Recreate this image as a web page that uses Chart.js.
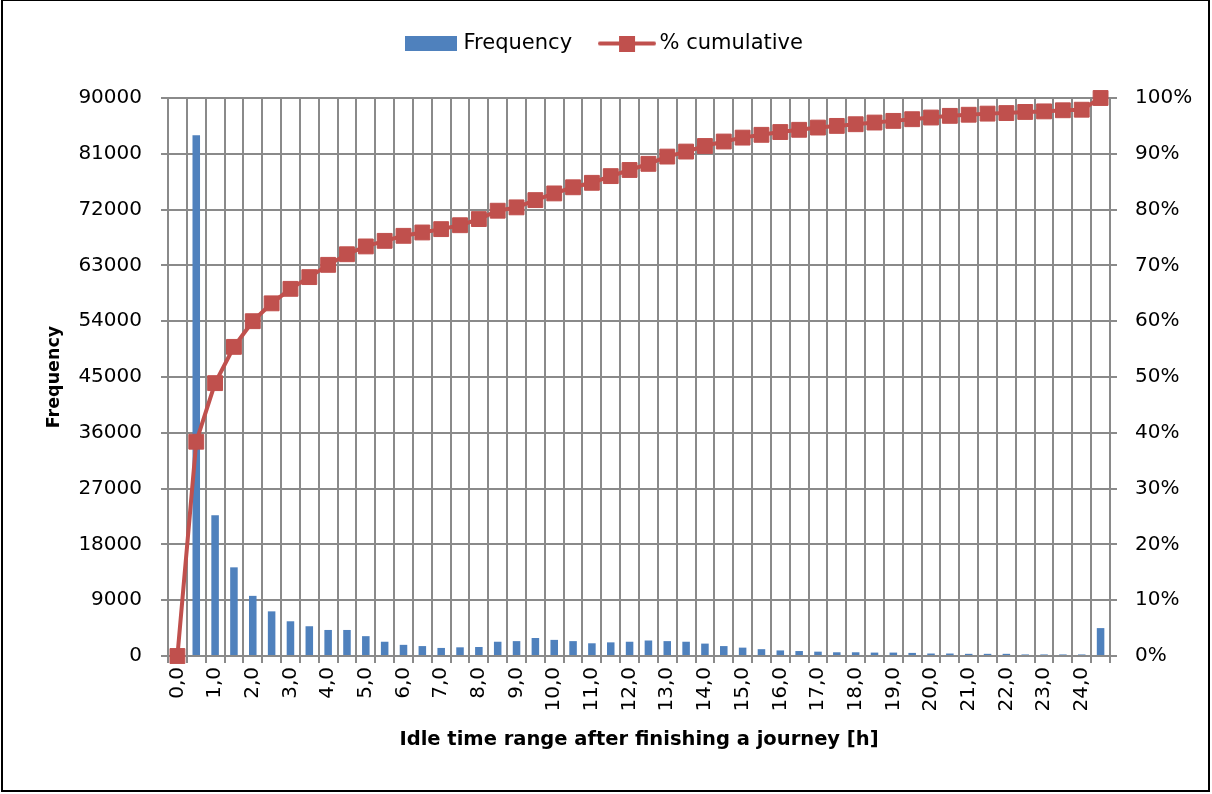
<!DOCTYPE html>
<html>
<head>
<meta charset="utf-8">
<script src="https://cdn.jsdelivr.net/npm/chart.js@4.4.1/dist/chart.umd.min.js"></script>
<style>
    html, body { margin: 0; padding: 0; background: #fff; }
    #wrap { position: relative; width: 1212px; height: 794px; }
</style>
</head>
<body>
<div id="wrap"><canvas id="chart" width="1212" height="794"></canvas></div>
<script>
const categories = [
    '0,0', '0,5', '1,0', '1,5', '2,0', '2,5', '3,0', '3,5', '4,0', '4,5',
    '5,0', '5,5', '6,0', '6,5', '7,0', '7,5', '8,0', '8,5', '9,0', '9,5',
    '10,0', '10,5', '11,0', '11,5', '12,0', '12,5', '13,0', '13,5', '14,0', '14,5',
    '15,0', '15,5', '16,0', '16,5', '17,0', '17,5', '18,0', '18,5', '19,0', '19,5',
    '20,0', '20,5', '21,0', '21,5', '22,0', '22,5', '23,0', '23,5', '24,0', '24,5'
];

const frequency = [
    0, 84000, 22700, 14300, 9700, 7200, 5600, 4800, 4200, 4200,
    3200, 2300, 1800, 1600, 1300, 1400, 1450, 2300, 2400, 2900,
    2600, 2400, 2050, 2200, 2300, 2500, 2400, 2300, 2000, 1600,
    1350, 1100, 900, 800, 700, 600, 600, 550, 550, 500,
    400, 400, 350, 350, 350, 250, 250, 250, 250, 4500
];

const cumulative = [
    0, 38.4, 48.9, 55.4, 60.0, 63.2, 65.8, 67.9, 70.1, 72.0,
    73.4, 74.4, 75.3, 75.9, 76.5, 77.2, 78.3, 79.8, 80.4, 81.7,
    82.9, 84.0, 84.8, 86.0, 87.1, 88.2, 89.5, 90.4, 91.4, 92.2,
    92.9, 93.4, 93.9, 94.3, 94.7, 95.0, 95.3, 95.6, 95.9, 96.2,
    96.5, 96.8, 97.0, 97.2, 97.3, 97.5, 97.6, 97.8, 97.9, 100
];

const freqTicks = [0, 9000, 18000, 27000, 36000, 45000, 54000, 63000, 72000, 81000, 90000];
const pctTicks = [0, 10, 20, 30, 40, 50, 60, 70, 80, 90, 100];

const BAR_COLOR = '#4F81BD';
const LINE_COLOR = '#C0504D';
const GRID_COLOR = '#8a8a8a';
const FONT = 'DejaVu Sans';

Chart.defaults.font.family = FONT;
Chart.defaults.color = '#000';

// legend swatches drawn as small canvases so the line entry shows line + marker
function makeSwatch(w, h, draw) {
    const c = document.createElement('canvas');
    c.width = w;
    c.height = h;
    draw(c.getContext('2d'), w, h);
    return c;
}

const barSwatch = makeSwatch(52, 15, (ctx, w, h) => {
    ctx.fillStyle = BAR_COLOR;
    ctx.fillRect(0, 0, w, h);
});

const lineSwatch = makeSwatch(58, 16, (ctx, w, h) => {
    ctx.strokeStyle = LINE_COLOR;
    ctx.lineWidth = 4;
    ctx.lineCap = 'round';
    ctx.beginPath();
    ctx.moveTo(2, h / 2);
    ctx.lineTo(w - 2, h / 2);
    ctx.stroke();
    ctx.fillStyle = LINE_COLOR;
    ctx.fillRect(w / 2 - 8, 0, 16, 16);
});

const framePlugin = {
    id: 'frame',
    beforeLayout(chart) {
        // push the plot area down below the legend like the original
        const legend = chart.legend;
        if (legend && !legend._patched) {
            const fit = legend.fit;
            legend.fit = function () {
                fit.call(this);
                this.height += 34;
            };
            legend._patched = true;
        }
    },
    afterDraw(chart) {
        const ctx = chart.ctx;
        ctx.save();
        ctx.strokeStyle = '#000';
        ctx.lineWidth = 2;
        ctx.strokeRect(2, 0, 1207, 791);
        ctx.restore();
    }
};

new Chart(document.getElementById('chart'), {
    type: 'bar',
    data: {
        labels: categories,
        datasets: [
            {
                type: 'bar',
                label: 'Frequency',
                data: frequency,
                yAxisID: 'y',
                backgroundColor: BAR_COLOR,
                barPercentage: 0.4,
                categoryPercentage: 1,
                order: 1
            },
            {
                type: 'line',
                label: '% cumulative',
                data: cumulative,
                yAxisID: 'y1',
                borderColor: LINE_COLOR,
                borderWidth: 4,
                tension: 0,
                pointStyle: 'rect',
                pointRadius: 10.5,
                pointBackgroundColor: LINE_COLOR,
                pointBorderColor: LINE_COLOR,
                pointBorderWidth: 1,
                clip: false,
                order: 0
            }
        ]
    },
    options: {
        responsive: false,
        animation: false,
        layout: { padding: { top: 0, left: 0, right: 0, bottom: 0 } },
        plugins: {
            tooltip: { enabled: false },
            legend: {
                position: 'top',
                labels: {
                    usePointStyle: true,
                    pointStyleWidth: 44,
                    padding: 33,
                    color: '#000',
                    font: { family: FONT, size: 21 },
                    sort: (a, b) => a.datasetIndex - b.datasetIndex,
                    generateLabels: chart => {
                        const items = Chart.defaults.plugins.legend.labels.generateLabels(chart);
                        items.forEach(item => {
                            item.pointStyle = item.datasetIndex === 0 ? barSwatch : lineSwatch;
                            item.lineWidth = 0;
                        });
                        return items;
                    }
                }
            }
        },
        scales: {
            x: {
                grid: { offset: true, color: GRID_COLOR, lineWidth: 2, tickLength: 7 },
                border: { color: GRID_COLOR, width: 2 },
                ticks: {
                    autoSkip: false,
                    maxRotation: 90,
                    minRotation: 90,
                    padding: 4,
                    color: '#000',
                    font: { family: FONT, size: 20 },
                    callback: (value, index) => (index % 2 === 0 ? categories[index] : '')
                },
                title: {
                    display: true,
                    text: 'Idle time range after finishing a journey [h]',
                    color: '#000',
                    font: { family: FONT, size: 19.5, weight: 'bold' },
                    padding: { top: 0, bottom: 42 }
                },
                afterFit: scale => { scale.height = 138; }
            },
            y: {
                position: 'left',
                min: 0,
                max: 90000,
                grid: { color: GRID_COLOR, lineWidth: 2, tickLength: 7 },
                border: { color: GRID_COLOR, width: 2 },
                ticks: {
                    padding: 19,
                    color: '#000',
                    font: { family: FONT, size: 20 },
                    callback: value => String(value)
                },
                afterBuildTicks: scale => { scale.ticks = freqTicks.map(v => ({ value: v })); },
                title: {
                    display: true,
                    text: 'Frequency',
                    color: '#000',
                    font: { family: FONT, size: 17.5, weight: 'bold' },
                    padding: { top: 44, bottom: 0 }
                },
                afterFit: scale => { scale.width = 168; }
            },
            y1: {
                position: 'right',
                min: 0,
                max: 100,
                grid: { drawOnChartArea: false, color: GRID_COLOR, lineWidth: 2, tickLength: 7 },
                border: { color: GRID_COLOR, width: 2 },
                ticks: {
                    padding: 18,
                    color: '#000',
                    font: { family: FONT, size: 20 },
                    callback: value => value + '%'
                },
                afterBuildTicks: scale => { scale.ticks = pctTicks.map(v => ({ value: v })); },
                afterFit: scale => { scale.width = 102; }
            }
        }
    },
    plugins: [framePlugin]
});
</script>
</body>
</html>
